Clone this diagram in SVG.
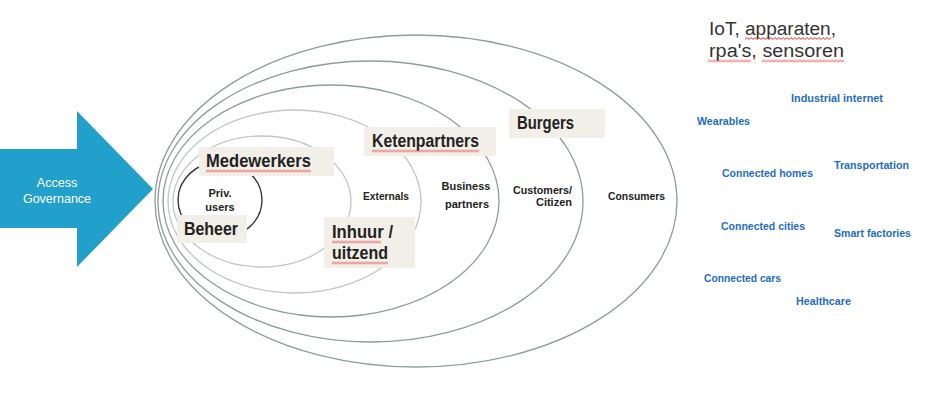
<svg xmlns="http://www.w3.org/2000/svg" width="944" height="403" viewBox="0 0 944 403">
<style>
.ring{fill:none;stroke:#8e9c9a;stroke-width:1.3}
.ring-l{fill:none;stroke:#c3c6c6;stroke-width:1.3}
.box{fill:#f2efe8}
.big{font-family:"Liberation Sans",Arial,sans-serif;font-weight:bold;font-size:17.5px;fill:#222}
.sm{font-family:"Liberation Sans",Arial,sans-serif;font-weight:bold;font-size:11px;fill:#222}
.blue{font-family:"Liberation Sans",Arial,sans-serif;font-weight:bold;font-size:11.5px;fill:#1f6dbf}
.iot{font-family:"Liberation Sans",Arial,sans-serif;font-size:18px;fill:#333}
.arw{font-family:"Liberation Sans",Arial,sans-serif;font-size:12.5px;fill:#fff}
</style>
<defs>
<pattern id="wave" width="4" height="3" patternUnits="userSpaceOnUse">
<path d="M-1,1.5 L0,2.5 L2,0.5 L4,2.5 L5,1.5" fill="none" stroke="#e0261e" stroke-width="1"/>
</pattern>
</defs>
<rect width="944" height="403" fill="#fff"/>

<g id="access-governance">
<polygon points="0,149 77,149 77,111 153,189 77,267 77,228 0,228" fill="#21a0cb"/>
<text class="arw" x="57" y="187" text-anchor="middle">Access</text>
<text class="arw" x="57" y="203" text-anchor="middle">Governance</text>
</g>

<g id="rings">
<ellipse id="ring-consumers" class="ring" cx="416" cy="201" rx="261" ry="166"/>
<ellipse id="ring-customers" class="ring" cx="370.5" cy="201.5" rx="212.5" ry="140.5"/>
<ellipse id="ring-business" class="ring" cx="331" cy="201" rx="168" ry="116"/>
<ellipse id="ring-externals" class="ring-l" cx="294.5" cy="201.5" rx="126.5" ry="91.5"/>
<ellipse id="ring-medewerkers" class="ring-l" cx="262" cy="201.5" rx="89" ry="65.5"/>
<ellipse id="ring-priv" cx="220" cy="200" rx="42" ry="38" fill="none" stroke="#3a3a3a" stroke-width="1.4"/>
</g>

<g id="ring-labels">
<text class="sm" x="220" y="197" text-anchor="middle">Priv.</text>
<text class="sm" x="220" y="211" text-anchor="middle">users</text>
<text class="sm" x="386" y="200" text-anchor="middle" textLength="46" lengthAdjust="spacingAndGlyphs">Externals</text>
<text class="sm" x="466" y="190" text-anchor="middle">Business</text>
<text class="sm" x="467" y="208" text-anchor="middle">partners</text>
<text class="sm" x="572" y="194" text-anchor="end" textLength="59" lengthAdjust="spacingAndGlyphs">Customers/</text>
<text class="sm" x="572" y="206" text-anchor="end">Citizen</text>
<text class="sm" x="636.5" y="200" text-anchor="middle" textLength="57" lengthAdjust="spacingAndGlyphs">Consumers</text>
</g>

<g id="medewerkers">
<rect class="box" x="199" y="147" width="135" height="29"/>
<text class="big" x="206" y="167" textLength="105" lengthAdjust="spacingAndGlyphs">Medewerkers</text>
<rect x="0" y="0" width="105" height="3" fill="url(#wave)" transform="translate(206,169.5)"/>
</g>

<g id="beheer">
<rect class="box" x="177" y="215" width="70" height="28"/>
<text class="big" x="184" y="235" textLength="54" lengthAdjust="spacingAndGlyphs">Beheer</text>
</g>

<g id="inhuur">
<rect class="box" x="324" y="217" width="91" height="51"/>
<text class="big" x="332" y="238" textLength="61" lengthAdjust="spacingAndGlyphs">Inhuur /</text>
<text class="big" x="332" y="259" textLength="56" lengthAdjust="spacingAndGlyphs">uitzend</text>
<rect x="0" y="0" width="49" height="3" fill="url(#wave)" transform="translate(332,240.5)"/>
<rect x="0" y="0" width="56" height="3" fill="url(#wave)" transform="translate(332,261.5)"/>
</g>

<g id="ketenpartners">
<rect class="box" x="364" y="127" width="132" height="29"/>
<text class="big" x="372" y="147" textLength="107" lengthAdjust="spacingAndGlyphs">Ketenpartners</text>
<rect x="0" y="0" width="107" height="3" fill="url(#wave)" transform="translate(372,149.5)"/>
</g>

<g id="burgers">
<rect class="box" x="509" y="109" width="96" height="29"/>
<text class="big" x="517" y="129" textLength="57" lengthAdjust="spacingAndGlyphs">Burgers</text>
</g>

<g id="iot-title">
<text class="iot" x="709" y="35" textLength="127" lengthAdjust="spacingAndGlyphs">IoT, apparaten,</text>
<text class="iot" x="709" y="57" textLength="135" lengthAdjust="spacingAndGlyphs">rpa's, sensoren</text>
<rect x="0" y="0" width="86" height="3" fill="url(#wave)" transform="translate(745,37)"/>
<rect x="0" y="0" width="43" height="3" fill="url(#wave)" transform="translate(708,59.5)"/>
<rect x="0" y="0" width="82" height="3" fill="url(#wave)" transform="translate(762,59.5)"/>
</g>

<g id="iot-items">
<text class="blue" x="791" y="102" textLength="92" lengthAdjust="spacingAndGlyphs">Industrial internet</text>
<text class="blue" x="697" y="125" textLength="53" lengthAdjust="spacingAndGlyphs">Wearables</text>
<text class="blue" x="834" y="169" textLength="75" lengthAdjust="spacingAndGlyphs">Transportation</text>
<text class="blue" x="722" y="177" textLength="91" lengthAdjust="spacingAndGlyphs">Connected homes</text>
<text class="blue" x="721" y="230" textLength="84" lengthAdjust="spacingAndGlyphs">Connected cities</text>
<text class="blue" x="834" y="237" textLength="77" lengthAdjust="spacingAndGlyphs">Smart factories</text>
<text class="blue" x="704" y="282" textLength="77" lengthAdjust="spacingAndGlyphs">Connected cars</text>
<text class="blue" x="796" y="305" textLength="55" lengthAdjust="spacingAndGlyphs">Healthcare</text>
</g>
</svg>
